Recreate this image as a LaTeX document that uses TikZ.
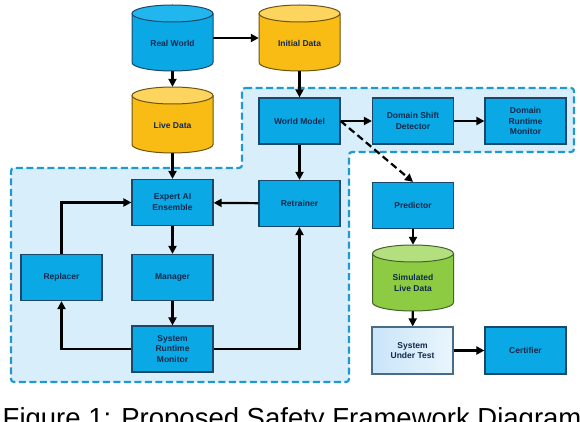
\documentclass[tikz,border=0pt]{standalone}
\usepackage{fontspec}
\setmainfont{Liberation Sans}
\usetikzlibrary{arrows.meta}
\definecolor{boxfill}{HTML}{0AA9E6}
\definecolor{boxline}{HTML}{1C4768}
\definecolor{txt}{HTML}{10294A}
\definecolor{orbody}{HTML}{F9BC15}
\definecolor{ortop}{HTML}{FDD45E}
\definecolor{orline}{HTML}{6B5410}
\definecolor{grbody}{HTML}{8DCB43}
\definecolor{grtop}{HTML}{B3DF7E}
\definecolor{grline}{HTML}{44632A}
\definecolor{bltop}{HTML}{22B6EE}
\definecolor{regfill}{HTML}{D9EEFB}
\definecolor{regline}{HTML}{1E9AD0}
\definecolor{sutA}{HTML}{C9E5F9}
\definecolor{sutB}{HTML}{E9F5FD}
\newcommand\dbcyl[7]{% name, cx, cy, body, top, line, text
  \fill[#4] (#2-40.5,#3-24.5) -- (#2-40.5,#3+24.5) arc[start angle=180,end angle=0,x radius=40.5,y radius=8.5] -- (#2+40.5,#3-24.5) -- cycle;
  \draw[draw=#6,line width=1pt] (#2-40.5,#3-24.5) -- (#2-40.5,#3+24.5) arc[start angle=180,end angle=0,x radius=40.5,y radius=8.5] -- (#2+40.5,#3-24.5);
  \filldraw[fill=#5,draw=#6,line width=1pt] (#2,#3-24.5) ellipse[x radius=40.5,y radius=8.5];
  \node[cylnode,label={[cyltext]center:#7}] (#1) at (#2,#3) {};
}
\begin{document}
\begin{tikzpicture}[x=1pt,y=-1pt,
  nodefont/.style={font=\fontsize{8.5}{10.8}\selectfont\bfseries, text=txt, align=center},
  box/.style={nodefont, rectangle, draw=boxline, fill=boxfill, line width=1.2pt,
    minimum width=81pt, minimum height=46pt, inner sep=1pt},
  cylnode/.style={rectangle, draw=none, minimum width=81pt, minimum height=66pt, inner sep=0pt},
  cyltext/.style={nodefont, yshift=-5pt, inner sep=0pt},
  arr/.style={line width=2.2pt, -{Triangle[length=8pt,width=8pt]}},
  darr/.style={arr, dash pattern=on 7pt off 4pt},
  region/.style={fill=regfill, draw=regline, line width=2.2pt, dash pattern=on 7pt off 3.5pt, rounded corners=3pt}]
\useasboundingbox (0,0) rectangle (580,422);
\fill[white] (0,0) rectangle (580,422);
% region
\path[region] (242,88) -- (574,88) -- (574,152) -- (349,152) -- (349,382) -- (11,382) -- (11,168) -- (242,168) -- cycle;
% cylinders
\dbcyl{rw}{172.5}{38}{boxfill}{bltop}{boxline}{Real World}
\dbcyl{id}{299.5}{38}{orbody}{ortop}{orline}{Initial Data}
\dbcyl{ld}{172.5}{120}{orbody}{ortop}{orline}{Live Data}
\dbcyl{sld}{413}{278}{grbody}{grtop}{grline}{Simulated\\Live Data}
% boxes
\node[box] (wm) at (299.5,121) {World Model};
\node[box] (dsd) at (413,121) {Domain Shift\\Detector};
\node[box] (drm) at (525.5,121) {Domain\\Runtime\\Monitor};
\node[box] (ret) at (299.5,203.5) {Retrainer};
\node[box] (pred) at (413,205.5) {Predictor};
\node[box] (exp) at (172.5,202.5) {Expert AI\\Ensemble};
\node[box] (rep) at (61.5,277.5) {Replacer};
\node[box] (man) at (172.5,277.5) {Manager};
\node[box] (srm) at (172.5,349) {System\\Runtime\\Monitor};
\node[box, draw=boxline!80!white, left color=sutA, right color=sutB, minimum height=47pt] (sut) at (412.5,350.5) {System\\Under Test};
\node[box, minimum height=47pt] (cert) at (525.5,350.5) {Certifier};
% connectors
\draw[arr] (rw) -- (id);
\draw[arr] (rw) -- (ld);
\draw[arr] (id) -- (wm);
\draw[arr] (ld) -- (exp);
\draw[arr] (wm) -- (dsd);
\draw[arr] (dsd) -- (drm);
\draw[darr] (wm.east) -- (pred.north);
\draw[arr] (wm) -- (ret);
\draw[arr] (ret) -- (exp);
\draw[arr] (rep.north) |- (exp.west);
\draw[arr] (exp) -- (man);
\draw[arr] (man) -- (srm);
\draw[arr] (srm.west) -| (rep.south);
\draw[arr] (srm.east) -| (ret.south);
\draw[arr] (pred) -- (sld);
\draw[arr] (sld) -- (sut);
\draw[arr] (sut) -- (cert);
% caption
\node[anchor=base west, inner sep=0pt, font=\fontsize{27.5}{27.5}\selectfont] (cap) at (2.5,427) {Figure 1: Proposed Safety Framework Diagram};
\end{tikzpicture}
\end{document}
